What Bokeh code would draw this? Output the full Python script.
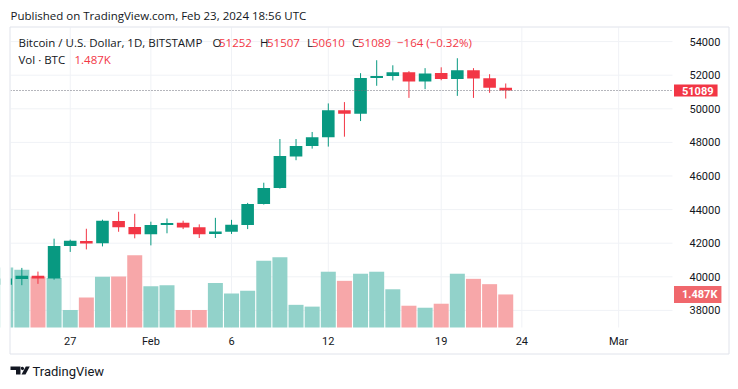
import numpy as np
import pandas as pd
from bokeh.plotting import figure
from bokeh.models import (ColumnDataSource, Range1d, FixedTicker, Label,
                          BoxAnnotation, PolyAnnotation)
from bokeh.embed import file_html
from bokeh.resources import INLINE

# ---------------- data ----------------
dates = ["2024-01-23", "2024-01-24", "2024-01-25", "2024-01-26", "2024-01-27",
         "2024-01-28", "2024-01-29", "2024-01-30", "2024-01-31", "2024-02-01",
         "2024-02-02", "2024-02-03", "2024-02-04", "2024-02-05", "2024-02-06",
         "2024-02-07", "2024-02-08", "2024-02-09", "2024-02-10", "2024-02-11",
         "2024-02-12", "2024-02-13", "2024-02-14", "2024-02-15", "2024-02-16",
         "2024-02-17", "2024-02-18", "2024-02-19", "2024-02-20", "2024-02-21",
         "2024-02-22", "2024-02-23"]
opens = [39520, 39870, 40060, 39900, 41830, 42130, 41990, 43320, 42960, 42540,
         43080, 43210, 42950, 42550, 42680, 43090, 44330, 45290, 47160, 47780,
         48300, 49920, 49710, 51840, 51950, 52170, 51630, 52130, 51770, 52290,
         51820, 51252]
highs = [40150, 40530, 40310, 42270, 42210, 42860, 43400, 43870, 43750, 43280,
         43470, 43340, 43120, 43510, 43390, 44400, 45600, 48200, 48200, 48620,
         50320, 50400, 52120, 52890, 52590, 52240, 52420, 52470, 53010, 52420,
         52060, 51507]
lows = [39350, 39500, 39580, 39830, 41480, 41630, 41810, 42680, 42290, 41870,
        42590, 42840, 42310, 42310, 42550, 42840, 44300, 45250, 46940, 47630,
        47750, 48340, 49270, 51370, 51690, 50650, 51170, 51700, 50770, 50650,
        50950, 50610]
closes = [39900, 40060, 39900, 41830, 42150, 41980, 43330, 42950, 42540, 43090,
          43200, 42940, 42540, 42690, 43100, 44340, 45290, 47190, 47780, 48300,
          49920, 49710, 51840, 51950, 52180, 51630, 52100, 51770, 52290, 51810,
          51250, 51089]
volumes = [2700, 2600, 2280, 2230, 790, 1350, 2280, 2290, 3250, 1860,
           1900, 790, 790, 2000, 1530, 1650, 3000, 3160, 1020, 940,
           2510, 2100, 2420, 2510, 1720, 980, 890, 1070, 2420, 2190,
           1950, 1487]

price_ticks = [38000, 40000, 42000, 44000, 46000, 48000, 50000, 52000, 54000]
date_ticks = ["2024-01-27", "2024-02-01", "2024-02-06", "2024-02-12",
              "2024-02-19", "2024-02-24", "2024-03-01"]
date_tick_labels = ["27", "Feb", "6", "12", "19", "24", "Mar"]

change_text = "\u2212164 (\u22120.32%)"
last_volume_text = "1.487K"

# ---------------- styling ----------------
GREEN = "#089981"
RED = "#f23645"
VGREEN = "#92d2ca"
VRED = "#f7a7a9"
VTAG = "#f0676c"
TXT = "#131722"
GRID = "#f0f2f6"
BORDER = "#e0e3eb"
FONT = "Open Sans"
AXFONT = "Roboto"

W, H = 738, 389

d = pd.to_datetime(dates)
start = d[0]
df = pd.DataFrame(dict(open=opens, high=highs, low=lows, close=closes, volume=volumes))
df["x"] = (d - start).days
up = df["close"] >= df["open"]
df["color"] = np.where(up, GREEN, RED)
df["vcolor"] = np.where(up, VGREEN, VRED)
df["top"] = df[["open", "close"]].max(axis=1)
df["bottom"] = df[["open", "close"]].min(axis=1)
src = ColumnDataSource(df)

tick_x = [int(v) for v in (pd.to_datetime(date_ticks) - start).days]

# chart (pane) extent in data units; the frame covers the whole canvas
X_PANE0, X_PANE1 = 0.2976, 41.339          # left / right edge of price pane
P_PANE0, P_PANE1 = 36982.1, 54839.3        # bottom / top of price pane
x_lo, x_hi = -0.3224, 45.431
y_lo, y_hi = 33291.7, 56446.4
v_lo, v_hi = -2790, 14715

p = figure(width=W, height=H, output_backend="svg", toolbar_location=None,
           x_range=Range1d(x_lo, x_hi), y_range=Range1d(y_lo, y_hi),
           y_axis_location="right", min_border=0)
p.extra_y_ranges = {"vol": Range1d(v_lo, v_hi)}
p.background_fill_color = "white"
p.border_fill_color = "white"
p.outline_line_color = None
p.grid.visible = False

# grid lines limited to the pane
p.segment(x0=X_PANE0, x1=X_PANE1, y0=price_ticks, y1=price_ticks,
          line_color=GRID, line_width=1)
p.segment(x0=tick_x, x1=tick_x, y0=P_PANE0, y1=P_PANE1, line_color=GRID, line_width=1)

# volume
p.vbar(x="x", width=0.93, top="volume", bottom=0, y_range_name="vol",
       fill_color="vcolor", line_color=None, source=src)
# candles
p.segment(x0="x", y0="low", x1="x", y1="high", line_color="color",
          line_width=1, source=src)
p.vbar(x="x", width=0.78, top="top", bottom="bottom", fill_color="color",
       line_color=None, source=src)

# last price dotted line across the pane
p.line(x=[X_PANE0, X_PANE1], y=[closes[-1], closes[-1]], line_color="#6a6d78",
       line_dash="1 2", line_width=1)

# white margin left of the pane (clips first candle) and pane border
p.add_layout(BoxAnnotation(left=0, right=10, bottom=0, top=H,
                           left_units="screen", right_units="screen",
                           top_units="screen", bottom_units="screen",
                           fill_color="white", fill_alpha=1, line_alpha=0))
p.add_layout(BoxAnnotation(left=9.5, right=728.5, top=H - 26.5, bottom=H - 353.5,
                           left_units="screen", right_units="screen",
                           top_units="screen", bottom_units="screen",
                           fill_alpha=0, line_color=BORDER, line_alpha=1, line_width=1))

# axes (fixed at pane edges)
ya = p.yaxis[0]
ya.fixed_location = X_PANE1
ya.ticker = FixedTicker(ticks=price_ticks)
ya.axis_line_color = None
ya.major_tick_line_color = None
ya.minor_tick_line_color = None
ya.major_label_standoff = 11
ya.major_label_text_font = AXFONT
ya.major_label_text_font_size = "11px"
ya.major_label_text_color = TXT

xa = p.xaxis[0]
xa.fixed_location = P_PANE0
xa.ticker = FixedTicker(ticks=tick_x)
xa.major_label_overrides = {tx: lab for tx, lab in zip(tick_x, date_tick_labels)}
xa.axis_line_color = None
xa.major_tick_line_color = None
xa.minor_tick_line_color = None
xa.major_label_standoff = 1
xa.major_label_text_font = AXFONT
xa.major_label_text_font_size = "11px"
xa.major_label_text_color = TXT

# value tags on the price scale
p.add_layout(Label(x=673.5, y=closes[-1], x_units="screen", text=str(closes[-1]),
                   text_color="white", text_font=AXFONT, text_font_size="11px",
                   text_font_style="bold", text_baseline="middle", text_align="left",
                   background_fill_color=RED, background_fill_alpha=1,
                   padding=dict(left=8, right=4, top=2, bottom=2)))
p.add_layout(Label(x=673.5, y=volumes[-1], x_units="screen", y_range_name="vol",
                   text=last_volume_text,
                   text_color="white", text_font=AXFONT, text_font_size="11px",
                   text_font_style="bold", text_baseline="middle", text_align="left",
                   background_fill_color=VTAG, background_fill_alpha=1,
                   padding=dict(left=8, right=4, top=2, bottom=2)))

def lab(text, px, py, color=TXT, size="11.5px", font=FONT):
    p.add_layout(Label(x=px, y=H - py, x_units="screen", y_units="screen",
                       text=text, text_color=color, text_font=font,
                       text_font_size=size, text_baseline="middle", text_align="left"))

lab("Published on TradingView.com, Feb 23, 2024 18:56 UTC", 10, 15)
lab("Bitcoin / U.S. Dollar, 1D, BITSTAMP", 18, 42)
lab("O", 212, 42); lab(f"{opens[-1]}", 218.5, 42, color=RED)
lab("H", 259.5, 42); lab(f"{highs[-1]}", 266.5, 42, color=RED)
lab("L", 306.5, 42); lab(f"{lows[-1]}", 311.5, 42, color=RED)
lab("C", 351.5, 42); lab(f"{closes[-1]}", 357.5, 42, color=RED)
lab(change_text, 396.5, 42, color=RED)
lab("Vol \u00b7 BTC", 18, 59)
lab(last_volume_text, 74, 59, color=RED)

# footer: logo + name
def poly(pts):
    p.add_layout(PolyAnnotation(xs=[a for a, b in pts], ys=[H - b for a, b in pts],
                                xs_units="screen", ys_units="screen",
                                fill_color=TXT, fill_alpha=1, line_alpha=0))
poly([(10, 366), (20, 366), (20, 374), (15.5, 374), (15.5, 369.5), (10, 369.5)])
poly([(20.6, 366.6), (22.4, 366.2), (23.6, 367.4), (23.4, 369.0), (21.6, 369.8), (20.4, 368.6)])
poly([(21, 374), (25, 374), (29.3, 366), (25.3, 366)])
lab("TradingView", 32, 370.7, size="13px", font=AXFONT)

open("out.html", "w").write(file_html(p, INLINE))
